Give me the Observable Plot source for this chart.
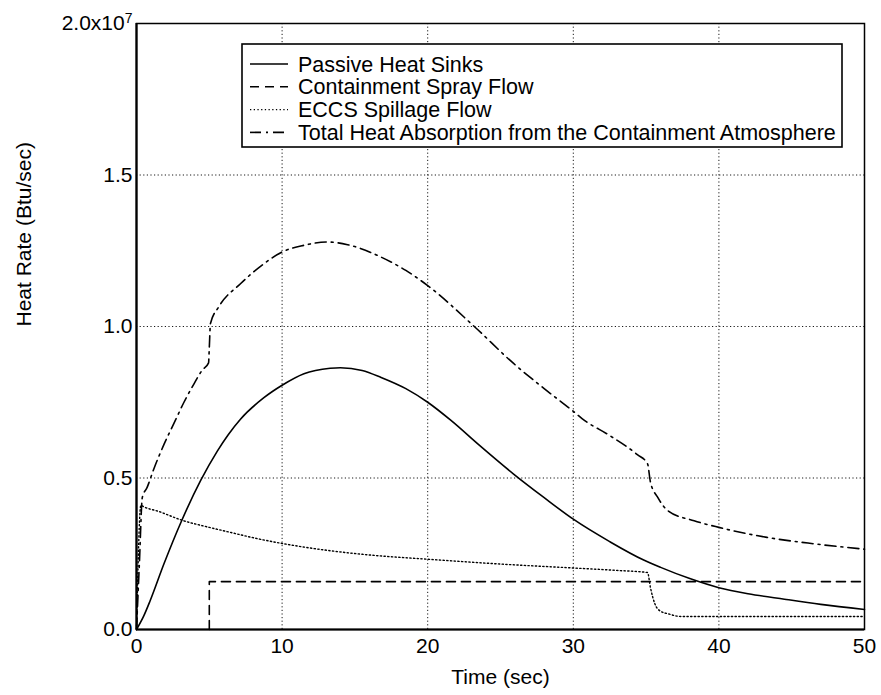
<!DOCTYPE html>
<html>
<head>
<meta charset="utf-8">
<script src="https://cdn.jsdelivr.net/npm/d3@7"></script>
<script src="https://cdn.jsdelivr.net/npm/@observablehq/plot@0.6"></script>
<style>
  body { margin: 0; background: #fff; }
  #wrap { position: relative; width: 881px; height: 695px; }
  #wrap svg { position: absolute; left: 0; top: 0; }
</style>
</head>
<body>
<div id="wrap"></div>
<script>
// Values are in units of 1e7 Btu/sec
const xTicks = [0, 10, 20, 30, 40, 50];
const yTicks = [0, 0.5, 1.0, 1.5, 2.0];
const xLabel = "Time (sec)";
const yLabel = "Heat Rate (Btu/sec)";
const seriesNames = [
  "Passive Heat Sinks",
  "Containment Spray Flow",
  "ECCS Spillage Flow",
  "Total Heat Absorption from the Containment Atmosphere"
];

const passiveT = [0, 0.5, 0.93, 1.88, 3.1, 4.4, 5.54, 6.3, 7.14, 8.75, 10, 11.5, 13.3, 14, 15.5, 16.8, 18.5, 20, 21.6, 23.5, 25.9, 28, 30, 32.5, 34.8, 36, 38, 40, 42, 44.5, 47, 50];
const passiveV = [0, 0.045, 0.094, 0.216, 0.359, 0.491, 0.588, 0.643, 0.694, 0.765, 0.806, 0.844, 0.862, 0.864, 0.855, 0.832, 0.795, 0.75, 0.69, 0.61, 0.513, 0.435, 0.364, 0.29, 0.23, 0.205, 0.168, 0.138, 0.118, 0.10, 0.083, 0.066];

const sprayT = [5.0, 5.0, 50];
const sprayV = [0, 0.158, 0.158];

const eccsT = [0, 0.3, 0.5, 1.5, 3.1, 5, 6.5, 8, 10, 13.3, 16, 20, 25, 30, 33, 35.1, 35.3, 35.6, 36, 36.5, 37.4, 40, 45, 50];
const eccsV = [0, 0.41, 0.405, 0.39, 0.361, 0.337, 0.320, 0.303, 0.284, 0.26, 0.246, 0.232, 0.216, 0.203, 0.195, 0.188, 0.138, 0.085, 0.06, 0.052, 0.043, 0.043, 0.043, 0.043];

const totalT = [0, 0.2, 0.4, 0.73, 1.19, 1.88, 2.57, 3.26, 3.94, 4.5, 4.95, 5.0, 5.08, 5.64, 7.14, 8.75, 10, 11.5, 13.1, 14.5, 16.8, 18.5, 20, 23.2, 25.9, 28, 30, 30.6, 32.5, 34.4, 35.1, 35.3, 35.8, 36.5, 38.3, 40, 43.3, 46.5, 50];
const totalV = [0, 0.22, 0.436, 0.469, 0.53, 0.61, 0.68, 0.75, 0.81, 0.855, 0.88, 0.93, 1.01, 1.064, 1.141, 1.207, 1.246, 1.268, 1.279, 1.27, 1.229, 1.185, 1.135, 1.0, 0.878, 0.795, 0.72, 0.696, 0.64, 0.577, 0.547, 0.486, 0.436, 0.392, 0.359, 0.337, 0.304, 0.283, 0.265];

const zip = (T, V) => T.map((t, i) => ({t, v: V[i]}));
const passive = zip(passiveT, passiveV);
const spray = zip(sprayT, sprayV);
const eccs = zip(eccsT, eccsV);
const total = zip(totalT, totalV);

const styles = [
  {dash: null, width: 1.6},
  {dash: "9,6", width: 1.6},
  {dash: "1.3,2.4", width: 1.4},
  {dash: "11,5,2,5", width: 1.6}
];

const FONT = '"Liberation Sans", Arial, Helvetica, sans-serif';
const gridStyle = {stroke: "#000", strokeOpacity: 0.9, strokeWidth: 1, strokeDasharray: "1.2,2.4"};

const chart = Plot.plot({
  width: 881,
  height: 695,
  marginLeft: 136,
  marginRight: 17,
  marginTop: 23,
  marginBottom: 66,
  style: {fontFamily: FONT, fontSize: "21px", color: "#000", background: "#fff"},
  x: {domain: [0, 50]},
  y: {domain: [0, 2]},
  marks: [
    Plot.gridX(xTicks.slice(1, -1), gridStyle),
    Plot.gridY(yTicks.slice(1, -1), gridStyle),
    Plot.line(spray, {x: "t", y: "v", stroke: "#000", strokeWidth: styles[1].width, strokeDasharray: styles[1].dash}),
    Plot.line(eccs, {x: "t", y: "v", stroke: "#000", strokeWidth: styles[2].width, strokeDasharray: styles[2].dash, curve: "monotone-x"}),
    Plot.line(total, {x: "t", y: "v", stroke: "#000", strokeWidth: styles[3].width, strokeDasharray: styles[3].dash, curve: "monotone-x"}),
    Plot.line(passive, {x: "t", y: "v", stroke: "#000", strokeWidth: styles[0].width, curve: "monotone-x"}),
    Plot.frame({stroke: "#000", strokeWidth: 1.5}),
    Plot.ruleY([0], {stroke: "#000", strokeWidth: 2.2}),
    Plot.ruleX([0], {stroke: "#000", strokeWidth: 2.2}),
    Plot.axisX({ticks: xTicks, tickSize: 0, tickPadding: 9, tickFormat: d => String(d), label: null}),
    Plot.axisY({ticks: yTicks, tickSize: 0, tickPadding: 4, tickFormat: d => d === 2 ? "2.0x10" : d.toFixed(1), label: null}),
    Plot.text([xLabel], {frameAnchor: "bottom", dy: 48, text: d => d, lineAnchor: "middle", fontSize: 21}),
    Plot.text([yLabel], {frameAnchor: "left", dx: -112, rotate: -90, text: d => d, lineAnchor: "middle", fontSize: 21})
  ]
});

document.getElementById("wrap").appendChild(chart);

// superscript exponent on top y tick label
d3.select(chart).selectAll("text").each(function() {
  const t = d3.select(this);
  if (t.text() === "2.0x10") {
    t.append("tspan").attr("dy", "-0.55em").attr("font-size", "14px").text("7");
  }
});

// Legend overlay
const lg = d3.select("#wrap").append("svg")
  .attr("width", 881).attr("height", 695)
  .style("pointer-events", "none")
  .attr("font-family", FONT).attr("font-size", 21.5);
const box = {x: 242, y: 44, w: 600, h: 103};
lg.append("rect").attr("x", box.x).attr("y", box.y).attr("width", box.w).attr("height", box.h)
  .attr("fill", "#fff").attr("stroke", "#000").attr("stroke-width", 1.6);
seriesNames.forEach((name, i) => {
  const cy = box.y + 20 + i * 22.8;
  lg.append("line").attr("x1", box.x + 8).attr("x2", box.x + 46).attr("y1", cy).attr("y2", cy)
    .attr("stroke", "#000").attr("stroke-width", styles[i].width)
    .attr("stroke-dasharray", styles[i].dash);
  lg.append("text").attr("x", box.x + 56).attr("y", cy).attr("dy", "0.35em").text(name);
});
</script>
</body>
</html>
